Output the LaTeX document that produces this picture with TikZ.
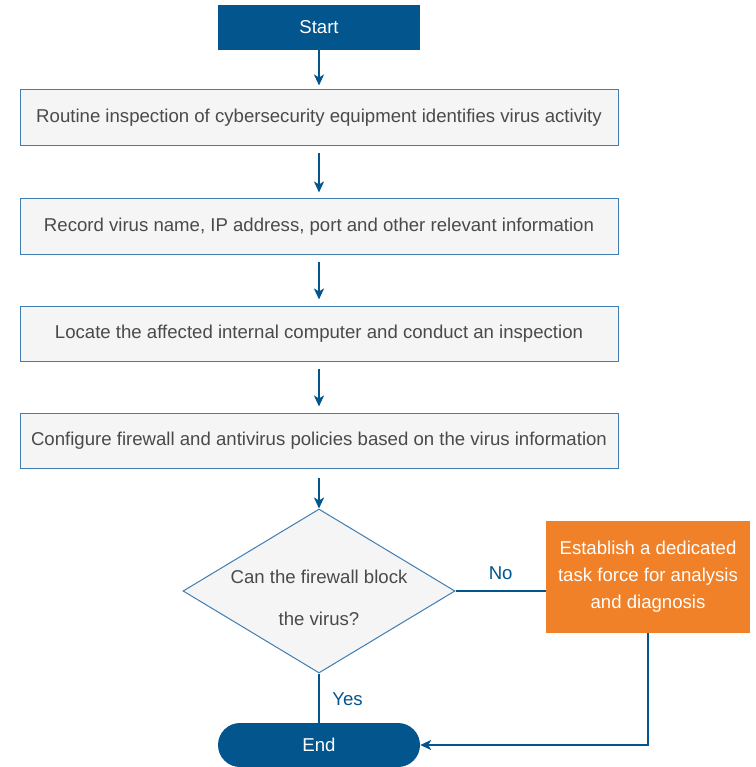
\documentclass[tikz,border=0pt]{standalone}
\usepackage{fontspec}
\setmainfont{Liberation Sans}
\usetikzlibrary{shapes.geometric,arrows.meta}
\definecolor{dblue}{HTML}{02558D}
\definecolor{bord}{HTML}{3F7DB3}
\definecolor{boxfill}{HTML}{F4F5F4}
\definecolor{txt}{HTML}{4A4A4A}
\definecolor{orng}{HTML}{F08129}
\tikzset{
  pbox/.style={draw=bord, line width=1pt, fill=boxfill, minimum width=598pt, minimum height=56pt, inner sep=0pt, text=txt, font=\fontsize{18.6}{22}\selectfont},
  termbox/.style={fill=dblue, minimum width=202pt, minimum height=45pt, inner sep=0pt, text=white, font=\fontsize{18.6}{22}\selectfont},
  arr/.style={draw=dblue, line width=2pt, -{Stealth[length=11pt,width=10pt,inset=3pt]}},
  ln/.style={draw=dblue, line width=2pt},
  lbl/.style={text=dblue, font=\fontsize{18.6}{22}\selectfont}
}
\begin{document}
\begin{tikzpicture}[x=1pt,y=-1pt]
\useasboundingbox (0,0) rectangle (755,767);
\node[termbox] (start) at (319,27.5) {Start};
\node[pbox] (b1) at (319,118) {Routine inspection of cybersecurity equipment identifies virus activity};
\node[pbox, minimum height=55pt] (b2) at (319,226.5) {Record virus name, IP address, port and other relevant information};
\node[pbox, minimum height=55pt] (b3) at (319,333.5) {Locate the affected internal computer and conduct an inspection};
\node[pbox, minimum height=55pt] (b4) at (319,440.5) {Configure firewall and antivirus policies based on the virus information};
\node[diamond, draw=bord, line width=1pt, fill=boxfill, minimum width=272pt, minimum height=164pt, inner sep=0pt, aspect=1.66] (dec) at (319,591) {};
\node[text=txt, align=center, inner sep=0pt, font=\fontsize{18.6}{42}\selectfont] (dectxt) at ([yshift=-7pt]dec.center) {Can the firewall block\\the virus?};
\node[fill=orng, minimum width=204pt, minimum height=112pt, inner sep=0pt, text=white, align=center, font=\fontsize{18.6}{27}\selectfont] (tf) at (648,577) {Establish a dedicated\\task force for analysis\\and diagnosis};
\node[termbox, rounded corners=22pt, minimum height=44pt] (end) at (319,745) {End};
\draw[arr, shorten >=4pt] (start.south) -- (b1.north);
\draw[arr, shorten <=7pt, shorten >=6pt] (b1.south) -- (b2.north);
\draw[arr, shorten <=7pt, shorten >=6pt] (b2.south) -- (b3.north);
\draw[arr, shorten <=7pt, shorten >=6pt] (b3.south) -- (b4.north);
\draw[arr, shorten <=9pt] (b4.south) -- (dec.north);
\draw[ln] (dec.east) -- node[lbl, above=7pt] (no) {No} (tf.west |- dec.east);
\draw[ln] (dec.south) -- node[lbl, right=9pt, pos=0.52] (yes) {Yes} (end.north);
\draw[arr] (tf.south) |- (end.east);
\end{tikzpicture}
\end{document}
